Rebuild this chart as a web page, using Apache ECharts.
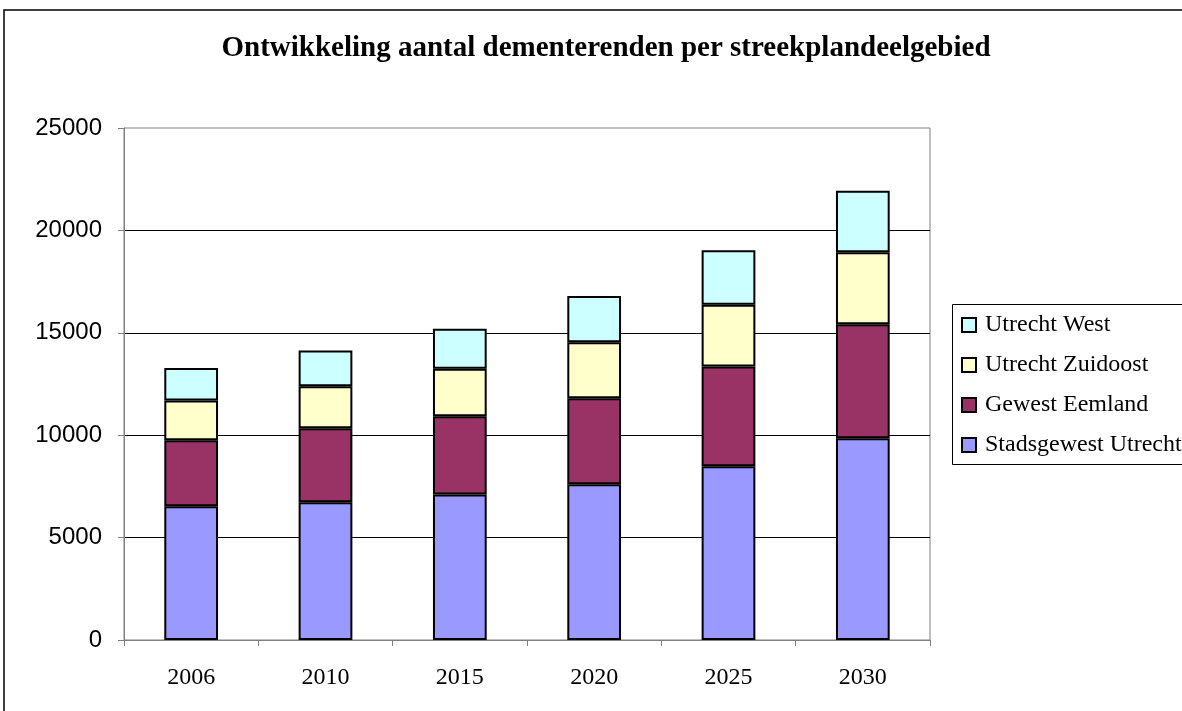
<!DOCTYPE html>
<html>
<head>
<meta charset="utf-8">
<script src="https://cdn.jsdelivr.net/npm/echarts@6/dist/echarts.min.js"></script>
<style>
    html, body { margin: 0; padding: 0; background: #fff; }
    .chart { width: 1182px; height: 711px; }
</style>
</head>
<body>
<div id="bar" class="chart"></div>
<script>
const years = ['2006', '2010', '2015', '2020', '2025', '2030']
const stadsgewestUtrecht = [6530, 6720, 7110, 7600, 8480, 9850]
const gewestEemland = [3220, 3620, 3810, 4200, 4880, 5570]
const utrechtZuidoost = [1940, 2050, 2330, 2740, 3010, 3510]
const utrechtWest = [1590, 1750, 1950, 2260, 2660, 3010]
const yTicks = { min: 0, max: 25000, interval: 5000 }

const colorList = ['#9999FF', '#993366', '#FFFFCC', '#CCFFFF']
const names = ['Stadsgewest Utrecht', 'Gewest Eemland', 'Utrecht Zuidoost', 'Utrecht West']
const values = [stadsgewestUtrecht, gewestEemland, utrechtZuidoost, utrechtWest]

const serif = '"Liberation Serif", "Times New Roman", serif'
const sans = '"Liberation Sans", Arial, sans-serif'

const myChart = echarts.init(document.getElementById('bar'))
myChart.setOption({
    animation: false,
    color: colorList,
    graphic: [
        {
            type: 'rect',
            shape: { x: 4, y: 10, width: 1400, height: 900 },
            style: { fill: 'none', stroke: '#000', lineWidth: 1.5 },
            silent: true
        },
        {
            // legend frame, runs off the right edge like the original
            type: 'rect',
            z: 1,
            shape: { x: 952.5, y: 304.5, width: 300, height: 160 },
            style: { fill: '#fff', stroke: '#000', lineWidth: 1 },
            silent: true
        },
        {
            type: 'text',
            x: 606,
            y: 49,
            style: {
                text: 'Ontwikkeling aantal dementerenden per streekplandeelgebied',
                font: 'bold 29px ' + serif,
                fill: '#000',
                textAlign: 'center',
                textVerticalAlign: 'middle'
            }
        }
    ],
    grid: {
        left: 124,
        right: 252,
        top: 128,
        bottom: 71,
        show: true,
        borderColor: '#808080',
        borderWidth: 1
    },
    legend: {
        orient: 'vertical',
        left: 961,
        top: 313,
        padding: 0,
        itemWidth: 14,
        itemHeight: 14,
        itemGap: 16,
        icon: 'rect',
        textStyle: { fontFamily: serif, fontSize: 24, color: '#000', padding: [0, 0, 0, 4] },
        data: ['Utrecht West', 'Utrecht Zuidoost', 'Gewest Eemland', 'Stadsgewest Utrecht']
    },
    xAxis: {
        type: 'category',
        data: years,
        axisLine: { lineStyle: { color: '#808080', width: 1 } },
        axisTick: { show: true, alignWithLabel: false, length: 6, lineStyle: { color: '#808080' } },
        axisLabel: { fontFamily: serif, fontSize: 24, color: '#000', margin: 26 },
        splitLine: { show: false }
    },
    yAxis: {
        type: 'value',
        min: yTicks.min,
        max: yTicks.max,
        interval: yTicks.interval,
        axisLine: { show: true, lineStyle: { color: '#808080', width: 1 } },
        axisTick: { show: true, length: 6, lineStyle: { color: '#808080' } },
        axisLabel: { fontFamily: sans, fontSize: 24, color: '#000', margin: 22, formatter: v => String(v) },
        splitLine: { showMinLine: false, showMaxLine: false, lineStyle: { color: '#000', width: 1 } }
    },
    series: names.map((name, i) => ({
        name: name,
        type: 'bar',
        stack: 'total',
        barWidth: '40%',
        data: values[i],
        itemStyle: { color: colorList[i], borderColor: '#000', borderWidth: 2 }
    }))
})
</script>
</body>
</html>
